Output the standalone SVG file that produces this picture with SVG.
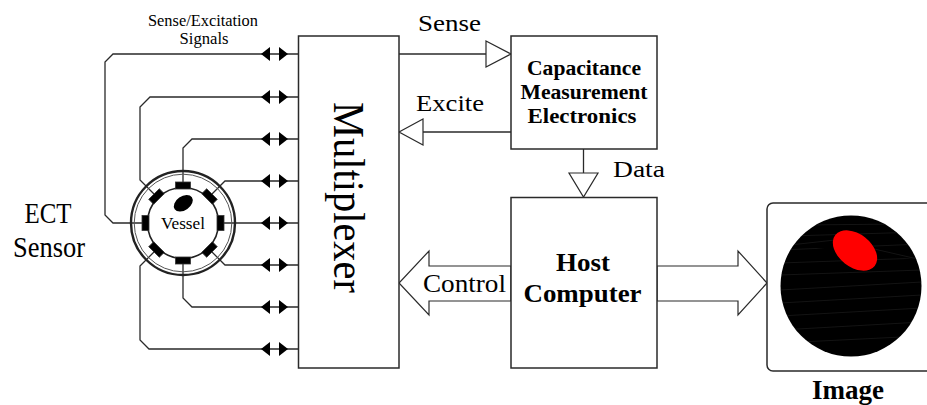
<svg xmlns="http://www.w3.org/2000/svg" width="927" height="405" viewBox="0 0 927 405">
  <style>
    .ln { fill: none; stroke: #2a2a2a; stroke-width: 1.3; }
    .box { fill: #fff; stroke: #2a2a2a; stroke-width: 1.5; }
    .hollow { fill: #fff; stroke: #2a2a2a; stroke-width: 1.2; stroke-linejoin: miter; }
    .serif { font-family: "Liberation Serif", "Times New Roman", serif; fill: #000; }
    .bold { font-weight: bold; }
    .mid { text-anchor: middle; }
    .elec { fill: #000; stroke: #333; stroke-width: 0.8; }
  </style>
  <defs>
    <!-- bidirectional signal head pair, drawn at y = 0 -->
    <g id="bidir">
      <polygon points="261,0 270,-7 270,7" fill="#000"/>
      <polygon points="288,0 279,-7 279,7" fill="#000"/>
    </g>
    <clipPath id="disc">
      <circle cx="851" cy="286" r="70.5"/>
    </clipPath>
  </defs>

  <rect width="927" height="405" fill="#fff"/>

  <!-- connectors -->
  <g id="connectors">
    <!-- electrode leads into the multiplexer -->
    <path class="ln" d="M298,54 H113 L105,62 V215 L113,223 H146"/>
    <path class="ln" d="M298,97 H150 L140,107 V180 L156,196"/>
    <path class="ln" d="M298,139 H192 L183,148 V186"/>
    <path class="ln" d="M298,181 H225 L210,196"/>
    <path class="ln" d="M298,223 H220"/>
    <path class="ln" d="M298,265 H225 L210,250"/>
    <path class="ln" d="M298,307 H192 L183,298 V260"/>
    <path class="ln" d="M298,349 H149 L140,340 V266 L156,250"/>
    <use href="#bidir" y="54"/>
    <use href="#bidir" y="97"/>
    <use href="#bidir" y="139"/>
    <use href="#bidir" y="181"/>
    <use href="#bidir" y="223"/>
    <use href="#bidir" y="265"/>
    <use href="#bidir" y="307"/>
    <use href="#bidir" y="349"/>

    <!-- Sense -->
    <path class="ln" d="M399,54 H486"/>
    <polygon class="hollow" points="486,41 511,54 486,67"/>
    <!-- Excite -->
    <path class="ln" d="M423,132 H511"/>
    <polygon class="hollow" points="399,132 423,119 423,145"/>
    <!-- Data -->
    <path class="ln" d="M583.5,149 V173"/>
    <polygon class="hollow" points="569,173 598,173 583.5,197"/>
    <!-- Control -->
    <polygon class="hollow" points="511,266 429,266 429,251 399,283 429,315 429,301 511,301"/>
    <!-- output to image -->
    <polygon class="hollow" points="657,266 738,266 738,251 767,283 738,315 738,301 657,301"/>

    <text class="serif" x="418" y="31" font-size="23" textLength="63" lengthAdjust="spacingAndGlyphs">Sense</text>
    <text class="serif" x="416" y="111" font-size="23" textLength="68" lengthAdjust="spacingAndGlyphs">Excite</text>
    <text class="serif" x="613" y="177" font-size="23" textLength="52" lengthAdjust="spacingAndGlyphs">Data</text>
    <text class="serif" x="423" y="292" font-size="26" textLength="83" lengthAdjust="spacingAndGlyphs">Control</text>
    <text class="serif mid" x="203" y="26" font-size="16.5" textLength="110" lengthAdjust="spacingAndGlyphs">Sense/Excitation</text>
    <text class="serif mid" x="204" y="44" font-size="16.5" textLength="49" lengthAdjust="spacingAndGlyphs">Signals</text>
  </g>

  <!-- ECT sensor -->
  <g id="sensor">
    <circle cx="183" cy="223" r="52" fill="none" stroke="#222" stroke-width="2.4"/>
    <circle cx="183" cy="223" r="48.8" fill="none" stroke="#555" stroke-width="1"/>
    <circle cx="183" cy="223" r="35.5" fill="#fff" stroke="#222" stroke-width="1.6"/>
    <g id="electrodes">
      <rect class="elec" x="175.5" y="182" width="15" height="7" transform="rotate(0 183 223)"/>
      <rect class="elec" x="175.5" y="182" width="15" height="7" transform="rotate(45 183 223)"/>
      <rect class="elec" x="175.5" y="182" width="15" height="7" transform="rotate(90 183 223)"/>
      <rect class="elec" x="175.5" y="182" width="15" height="7" transform="rotate(135 183 223)"/>
      <rect class="elec" x="175.5" y="182" width="15" height="7" transform="rotate(180 183 223)"/>
      <rect class="elec" x="175.5" y="182" width="15" height="7" transform="rotate(225 183 223)"/>
      <rect class="elec" x="175.5" y="182" width="15" height="7" transform="rotate(270 183 223)"/>
      <rect class="elec" x="175.5" y="182" width="15" height="7" transform="rotate(315 183 223)"/>
    </g>
    <ellipse cx="183.3" cy="203.3" rx="10.5" ry="7" transform="rotate(-35 183.3 203.3)" fill="#000"/>
    <text class="serif mid" x="183" y="228.5" font-size="17" textLength="44" lengthAdjust="spacingAndGlyphs">Vessel</text>
  </g>

  <g id="sensor-label">
    <text class="serif mid" x="48" y="223" font-size="29" textLength="47" lengthAdjust="spacingAndGlyphs">ECT</text>
    <text class="serif mid" x="49" y="257" font-size="29" textLength="72" lengthAdjust="spacingAndGlyphs">Sensor</text>
  </g>

  <g id="multiplexer">
    <rect class="box" x="298.5" y="36" width="100.5" height="332"/>
    <text class="serif mid" transform="translate(334,197.5) rotate(90)" font-size="44" textLength="191" lengthAdjust="spacingAndGlyphs">Multiplexer</text>
  </g>

  <g id="cme">
    <rect class="box" x="511" y="36" width="146" height="113"/>
    <text class="serif bold mid" x="584" y="75" font-size="20" textLength="114" lengthAdjust="spacingAndGlyphs">Capacitance</text>
    <text class="serif bold mid" x="584" y="99" font-size="20" textLength="127" lengthAdjust="spacingAndGlyphs">Measurement</text>
    <text class="serif bold mid" x="582" y="123" font-size="20" textLength="109" lengthAdjust="spacingAndGlyphs">Electronics</text>
  </g>

  <g id="host">
    <rect class="box" x="511" y="197.5" width="146" height="170.5"/>
    <text class="serif bold mid" x="583" y="270.5" font-size="26" textLength="54" lengthAdjust="spacingAndGlyphs">Host</text>
    <text class="serif bold mid" x="582.5" y="301.5" font-size="26" textLength="118" lengthAdjust="spacingAndGlyphs">Computer</text>
  </g>

  <g id="image">
    <rect x="767" y="203" width="175" height="168" rx="6" fill="#fff" stroke="#2a2a2a" stroke-width="1.5"/>
    <circle cx="851" cy="286" r="70.5" fill="#000"/>
    <g clip-path="url(#disc)" stroke="#383838" stroke-width="0.6" opacity="0.6">
      <path d="M780,250 L922,244"/>
      <path d="M780,263 L922,258"/>
      <path d="M780,275 L922,270"/>
      <path d="M780,290 L922,282"/>
      <path d="M780,303 L922,295"/>
      <path d="M780,316 L922,308"/>
      <path d="M780,330 L922,322"/>
      <path d="M780,343 L922,336"/>
      <path d="M790,236 L922,232"/>
      <path d="M800,225 L905,224"/>
      <path d="M790,245 L835,240 L922,260"/>
    </g>
    <ellipse cx="855" cy="250.5" rx="25" ry="16.5" transform="rotate(38 855 250.5)" fill="#f00"/>
    <text class="serif bold mid" x="848" y="399" font-size="28" textLength="72" lengthAdjust="spacingAndGlyphs">Image</text>
  </g>
</svg>
